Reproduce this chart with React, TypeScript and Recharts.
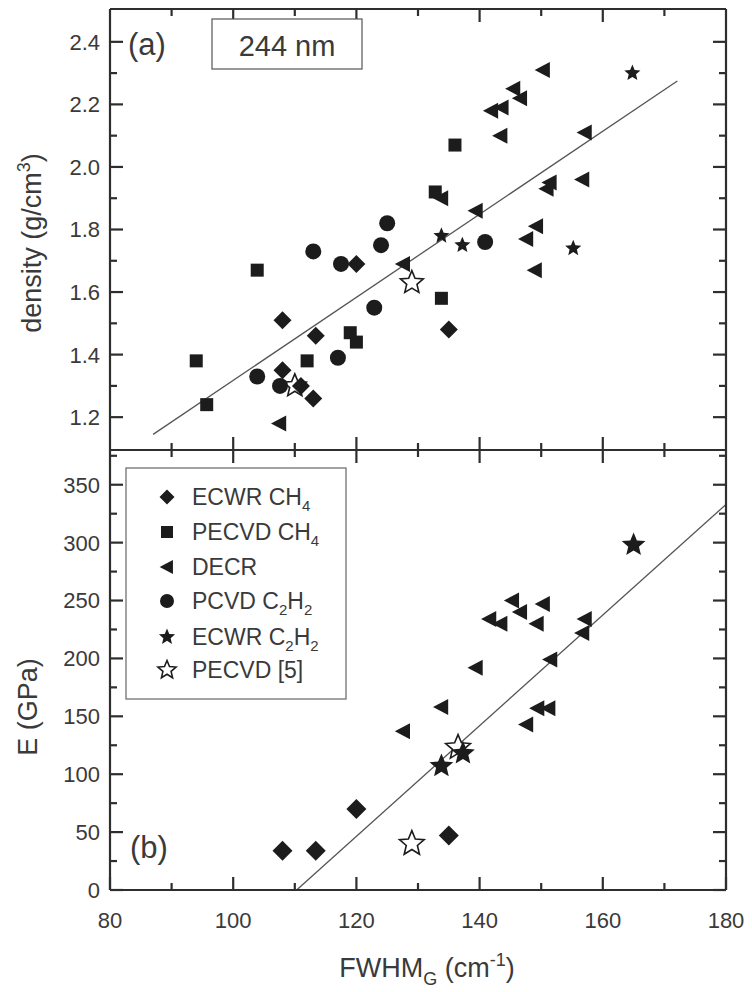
import React from 'react';
import { ScatterChart, Scatter, XAxis, YAxis, ReferenceLine } from 'recharts';

// axis ticks (minor + major, labels only on majors)
const xTicks = [90, 100, 110, 120, 130, 140, 150, 160, 170];
const densityTicks = [1.2, 1.3, 1.4, 1.5, 1.6, 1.7, 1.8, 1.9, 2.0, 2.1, 2.2, 2.3, 2.4];
const modulusTicks = [0, 25, 50, 75, 100, 125, 150, 175, 200, 225, 250, 275, 300, 325, 350, 375];

// (a) density vs FWHM_G
const ecwrCh4Density = [
  { x: 108.0, y: 1.51 }, { x: 113.4, y: 1.46 }, { x: 120.0, y: 1.69 }, { x: 108.0, y: 1.35 },
  { x: 111.0, y: 1.30 }, { x: 113.0, y: 1.26 }, { x: 135.0, y: 1.48 },
];
const pecvdCh4Density = [
  { x: 94.0, y: 1.38 }, { x: 95.7, y: 1.24 }, { x: 103.9, y: 1.67 }, { x: 112.0, y: 1.38 },
  { x: 119.0, y: 1.47 }, { x: 120.0, y: 1.44 }, { x: 133.8, y: 1.58 }, { x: 136.0, y: 2.07 },
  { x: 132.8, y: 1.92 },
];
const decrDensity = [
  { x: 107.5, y: 1.18 }, { x: 127.6, y: 1.69 }, { x: 133.8, y: 1.90 }, { x: 139.4, y: 1.86 },
  { x: 143.4, y: 2.10 }, { x: 141.9, y: 2.18 }, { x: 143.6, y: 2.19 }, { x: 145.5, y: 2.25 },
  { x: 146.6, y: 2.22 }, { x: 150.3, y: 2.31 }, { x: 157.1, y: 2.11 }, { x: 156.7, y: 1.96 },
  { x: 151.4, y: 1.95 }, { x: 150.9, y: 1.93 }, { x: 149.2, y: 1.81 }, { x: 147.6, y: 1.77 },
  { x: 149.0, y: 1.67 },
];
const pcvdC2h2Density = [
  { x: 103.9, y: 1.33 }, { x: 107.6, y: 1.30 }, { x: 113.0, y: 1.73 }, { x: 117.5, y: 1.69 },
  { x: 117.0, y: 1.39 }, { x: 122.9, y: 1.55 }, { x: 124.0, y: 1.75 }, { x: 125.0, y: 1.82 },
  { x: 140.9, y: 1.76 },
];
const ecwrC2h2Density = [
  { x: 164.8, y: 2.30 }, { x: 133.8, y: 1.78 }, { x: 137.2, y: 1.75 }, { x: 155.2, y: 1.74 },
];
const pecvdRefDensity = [{ x: 129.0, y: 1.63 }, { x: 110.0, y: 1.30 }];
const fitDensity = [{ x: 87.0, y: 1.145 }, { x: 172.1, y: 2.275 }];

// (b) Young's modulus vs FWHM_G
const ecwrCh4Modulus = [
  { x: 108.0, y: 34 }, { x: 113.4, y: 34 }, { x: 120.0, y: 70 }, { x: 135.0, y: 47 },
];
const decrModulus = [
  { x: 145.3, y: 250 }, { x: 150.3, y: 247 }, { x: 141.6, y: 234 }, { x: 143.4, y: 230 },
  { x: 146.6, y: 240 }, { x: 149.3, y: 230 }, { x: 157.1, y: 234 }, { x: 156.7, y: 222 },
  { x: 151.5, y: 199 }, { x: 139.4, y: 192 }, { x: 133.8, y: 158 }, { x: 127.6, y: 137 },
  { x: 147.6, y: 143 }, { x: 149.4, y: 157 }, { x: 151.2, y: 157 },
];
const ecwrC2h2Modulus = [{ x: 165.0, y: 298 }, { x: 133.8, y: 107 }, { x: 137.3, y: 118 }];
const pecvdRefModulus = [{ x: 129.0, y: 40 }, { x: 136.5, y: 123 }];
const fitModulus = [{ x: 110.3, y: 0 }, { x: 180, y: 333 }];

const FONT = '"Liberation Sans", Arial, Helvetica, sans-serif';
const INK = '#1c1c1c';
const AXIS = '#2e2e2e';
const TXT = '#3a3a3a';

type Kind = 'diamond' | 'square' | 'tri' | 'circle' | 'star' | 'ostar';

function starPath(cx: number, cy: number, r: number, ratio: number) {
  let d = '';
  for (let i = 0; i < 10; i++) {
    const rr = i % 2 === 0 ? r : r * ratio;
    const a = -Math.PI / 2 + (i * Math.PI) / 5;
    d += (i === 0 ? 'M' : 'L') + (cx + rr * Math.cos(a)).toFixed(2) + ',' + (cy + rr * Math.sin(a)).toFixed(2);
  }
  return d + 'Z';
}

function Marker({ kind, cx, cy, s }: { kind: Kind; cx: number; cy: number; s: number }) {
  const h = s / 2;
  if (kind === 'diamond')
    return <polygon points={`${cx},${cy - h} ${cx + h},${cy} ${cx},${cy + h} ${cx - h},${cy}`} fill={INK} />;
  if (kind === 'square') return <rect x={cx - h} y={cy - h} width={s} height={s} fill={INK} />;
  if (kind === 'tri')
    return <polygon points={`${cx - h * 1.05},${cy} ${cx + h * 0.85},${cy - h} ${cx + h * 0.85},${cy + h}`} fill={INK} />;
  if (kind === 'circle') return <circle cx={cx} cy={cy} r={h} fill={INK} />;
  if (kind === 'star') return <path d={starPath(cx, cy, h, 0.45)} fill={INK} />;
  return <path d={starPath(cx, cy, h, 0.45)} fill="#fff" stroke={INK} strokeWidth={1.6} />;
}

const shape = (kind: Kind, s: number) => (p: any) => <Marker kind={kind} cx={p.cx} cy={p.cy} s={s} />;
const noShape = () => <g />;

const tick =
  (side: 'left' | 'right' | 'top' | 'bottom', isMajor: (v: number) => boolean, label?: (v: number) => string) =>
  (p: any) => {
    const { x, y, payload } = p;
    const v = payload.value;
    const len = isMajor(v) ? 13 : 7;
    let ln;
    if (side === 'left') ln = <line x1={x} y1={y} x2={x + len} y2={y} stroke={AXIS} strokeWidth={2.2} />;
    else if (side === 'right') ln = <line x1={x} y1={y} x2={x - len} y2={y} stroke={AXIS} strokeWidth={2.2} />;
    else if (side === 'top') ln = <line x1={x} y1={y} x2={x} y2={y + len} stroke={AXIS} strokeWidth={2.2} />;
    else ln = <line x1={x} y1={y} x2={x} y2={y - len} stroke={AXIS} strokeWidth={2.2} />;
    let txt = null;
    if (label && isMajor(v)) {
      if (side === 'left')
        txt = (
          <text x={x - 10} y={y} dy="0.36em" textAnchor="end" fontSize={22} fill={TXT} fontFamily={FONT}>
            {label(v)}
          </text>
        );
      else
        txt = (
          <text x={x} y={y + 38} textAnchor="middle" fontSize={22} fill={TXT} fontFamily={FONT}>
            {label(v)}
          </text>
        );
    }
    return (
      <g>
        {ln}
        {txt}
      </g>
    );
  };

const xMajor = (v: number) => v % 20 === 0;
const dMajor = (v: number) => Math.round(v * 10) % 2 === 0;
const eMajor = (v: number) => v % 50 === 0;
const axisLine = { stroke: AXIS, strokeWidth: 2.2 };

function DensityPanel() {
  return (
    <ScatterChart width={752} height={451} margin={{ top: 8, right: 0, bottom: 0, left: 0 }}>
      <XAxis xAxisId="b" type="number" dataKey="x" domain={[80, 180]} ticks={xTicks} interval={0}
        orientation="bottom" height={1} tickSize={0} tickMargin={0} tickLine={false} axisLine={axisLine}
        tick={tick('bottom', xMajor)} />
      <XAxis xAxisId="t" type="number" dataKey="x" domain={[80, 180]} ticks={xTicks} interval={0}
        orientation="top" height={1} tickSize={0} tickMargin={0} tickLine={false} axisLine={axisLine}
        tick={tick('top', xMajor)} />
      <YAxis yAxisId="l" type="number" dataKey="y" domain={[1.095, 2.505]} ticks={densityTicks} interval={0}
        width={110} tickSize={0} tickMargin={0} tickLine={false} axisLine={axisLine}
        tick={tick('left', dMajor, (v) => v.toFixed(1))} />
      <YAxis yAxisId="r" type="number" dataKey="y" orientation="right" domain={[1.095, 2.505]} ticks={densityTicks} interval={0}
        width={26} tickSize={0} tickMargin={0} tickLine={false} axisLine={axisLine}
        tick={tick('right', dMajor)} />
      <Scatter xAxisId="t" yAxisId="r" data={fitDensity} shape={noShape} isAnimationActive={false} />
      <ReferenceLine xAxisId="b" yAxisId="l" segment={fitDensity} stroke="#555" strokeWidth={1.3} />
      <Scatter xAxisId="b" yAxisId="l" data={pecvdRefDensity} shape={shape('ostar', 24)} isAnimationActive={false} />
      <Scatter xAxisId="b" yAxisId="l" data={pecvdCh4Density} shape={shape('square', 13)} isAnimationActive={false} />
      <Scatter xAxisId="b" yAxisId="l" data={pcvdC2h2Density} shape={shape('circle', 16)} isAnimationActive={false} />
      <Scatter xAxisId="b" yAxisId="l" data={ecwrCh4Density} shape={shape('diamond', 18)} isAnimationActive={false} />
      <Scatter xAxisId="b" yAxisId="l" data={decrDensity} shape={shape('tri', 16)} isAnimationActive={false} />
      <Scatter xAxisId="b" yAxisId="l" data={ecwrC2h2Density} shape={shape('star', 17)} isAnimationActive={false} />
    </ScatterChart>
  );
}

function ModulusPanel() {
  return (
    <ScatterChart width={752} height={543} margin={{ top: 0, right: 0, bottom: 0, left: 0 }}>
      <XAxis xAxisId="b" type="number" dataKey="x" domain={[80, 180]} ticks={xTicks.concat([80, 180])} interval={0}
        orientation="bottom" height={102} tickSize={0} tickMargin={0} tickLine={false} axisLine={axisLine}
        tick={tick('bottom', xMajor, (v) => String(v))} />
      <XAxis xAxisId="t" type="number" dataKey="x" domain={[80, 180]} ticks={xTicks} interval={0}
        orientation="top" height={1} tickSize={0} tickMargin={0} tickLine={false} axisLine={axisLine}
        tick={tick('top', xMajor)} />
      <YAxis yAxisId="l" type="number" dataKey="y" domain={[0, 380]} ticks={modulusTicks} interval={0}
        width={110} tickSize={0} tickMargin={0} tickLine={false} axisLine={axisLine}
        tick={tick('left', eMajor, (v) => String(v))} />
      <YAxis yAxisId="r" type="number" dataKey="y" orientation="right" domain={[0, 380]} ticks={modulusTicks} interval={0}
        width={26} tickSize={0} tickMargin={0} tickLine={false} axisLine={axisLine}
        tick={tick('right', eMajor)} />
      <Scatter xAxisId="t" yAxisId="r" data={fitModulus} shape={noShape} isAnimationActive={false} />
      <ReferenceLine xAxisId="b" yAxisId="l" segment={fitModulus} stroke="#555" strokeWidth={1.3} />
      <Scatter xAxisId="b" yAxisId="l" data={pecvdRefModulus} shape={shape('ostar', 26)} isAnimationActive={false} />
      <Scatter xAxisId="b" yAxisId="l" data={ecwrCh4Modulus} shape={shape('diamond', 20)} isAnimationActive={false} />
      <Scatter xAxisId="b" yAxisId="l" data={decrModulus} shape={shape('tri', 16)} isAnimationActive={false} />
      <Scatter xAxisId="b" yAxisId="l" data={ecwrC2h2Modulus} shape={shape('star', 25)} isAnimationActive={false} />
    </ScatterChart>
  );
}

const legendRows: { kind: Kind; name: string; sub?: string; rest?: string; sub2?: string }[] = [
  { kind: 'diamond', name: 'ECWR CH', sub: '4' },
  { kind: 'square', name: 'PECVD CH', sub: '4' },
  { kind: 'tri', name: 'DECR' },
  { kind: 'circle', name: 'PCVD C', sub: '2', rest: 'H', sub2: '2' },
  { kind: 'star', name: 'ECWR C', sub: '2', rest: 'H', sub2: '2' },
  { kind: 'ostar', name: 'PECVD [5]' },
];
const legendY = [497, 532, 567, 601, 637, 670];
const legendSizes: Record<Kind, number> = { diamond: 15, square: 12, tri: 14, circle: 14, star: 17, ostar: 19 };

function Overlay() {
  return (
    <svg width={752} height={992} style={{ position: 'absolute', left: 0, top: 0, pointerEvents: 'none' }}
      fontFamily={FONT} fill={TXT}>
      <text x={128} y={55} fontSize={31}>(a)</text>
      <text x={130} y={858} fontSize={31}>(b)</text>
      <rect x={212} y={19} width={150} height={50} fill="#fff" stroke="#555" strokeWidth={1.2} />
      <text x={287} y={56} fontSize={29} textAnchor="middle">244 nm</text>

      <rect x={126} y={468} width={220} height={231} fill="#fff" stroke="#666" strokeWidth={1.2} />
      {legendRows.map((r, i) => (
        <g key={r.name}>
          <Marker kind={r.kind} cx={167} cy={legendY[i]} s={legendSizes[r.kind]} />
          <text x={192} y={legendY[i] + 8} fontSize={23}>
            {r.name}
            {r.sub && <tspan fontSize={15} dy={6}>{r.sub}</tspan>}
            {r.rest && <tspan dy={-6}>{r.rest}</tspan>}
            {r.sub2 && <tspan fontSize={15} dy={6}>{r.sub2}</tspan>}
          </text>
        </g>
      ))}

      <text transform="translate(41,243) rotate(-90)" textAnchor="middle" fontSize={27}>
        density (g/cm<tspan fontSize={18} dy={-11}>3</tspan><tspan dy={11}>)</tspan>
      </text>
      <text transform="translate(37,707) rotate(-90)" textAnchor="middle" fontSize={27}>
        E (GPa)
      </text>
      <text x={427} y={977} textAnchor="middle" fontSize={27}>
        FWHM<tspan fontSize={18} dy={8}>G</tspan><tspan dy={-8}> (cm</tspan>
        <tspan fontSize={18} dy={-11}>-1</tspan><tspan dy={11}>)</tspan>
      </text>
    </svg>
  );
}

export default function App() {
  return (
    <div style={{ position: 'absolute', left: 0, top: 0, width: 752, height: 992, background: '#fff' }}>
      <div style={{ position: 'absolute', left: 0, top: 0 }}>
        <DensityPanel />
      </div>
      <div style={{ position: 'absolute', left: 0, top: 449 }}>
        <ModulusPanel />
      </div>
      <Overlay />
    </div>
  );
}
